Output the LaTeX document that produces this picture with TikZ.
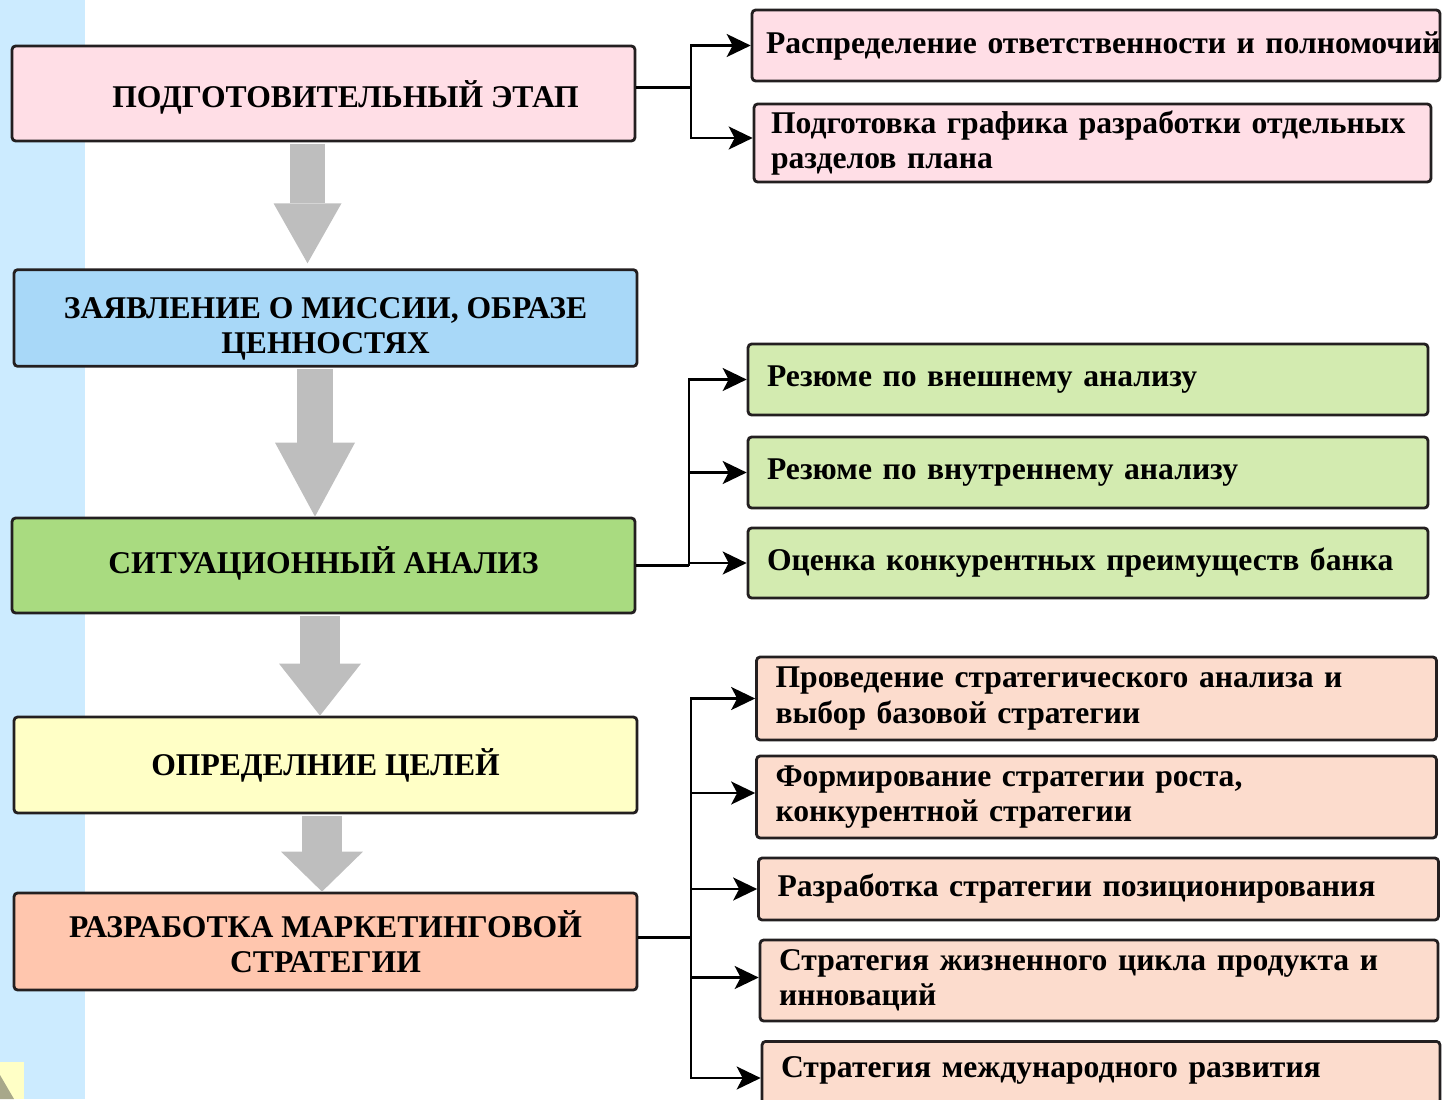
\documentclass[tikz,border=0pt]{standalone}
\usepackage{fontspec}
\setmainfont{Liberation Serif}
\usetikzlibrary{arrows.meta}
\usepackage{xcolor}
\definecolor{stripblue}{HTML}{CCEBFF}
\definecolor{boxline}{HTML}{231F20}
\definecolor{arrowgrey}{HTML}{BEBEBE}
\definecolor{pinkbox}{HTML}{FFDEE6}
\definecolor{bluebox}{HTML}{A8D8F8}
\definecolor{greenbox}{HTML}{A9DB80}
\definecolor{yellowbox}{HTML}{FFFFC6}
\definecolor{salmonbox}{HTML}{FFC6AE}
\definecolor{lightgreen}{HTML}{D3EBB0}
\definecolor{lightsalmon}{HTML}{FCDCCD}
\definecolor{cornergrey}{HTML}{A8A88A}

\begin{document}
\begin{tikzpicture}[x=0.02cm,y=-0.02cm]
    \tikzset{stage/.style = {draw=boxline, line width=1.6pt, rounded corners=2pt,
        minimum width=12.46cm, minimum height=1.9cm, align=center,
        font=\fontsize{18}{20}\selectfont\bfseries}}
    \tikzset{item/.style = {draw=boxline, line width=1.6pt, rounded corners=2pt,
        text width=12.84cm, inner xsep=0.38cm, align=left,
        font=\fontsize{18}{20}\selectfont\bfseries}}
    \tikzset{edge/.style = {line width=1.3pt, -{Stealth[length=0.48cm,width=0.46cm,inset=0.12cm]}}}
    \tikzset{bigarrow/.style n args={3}{draw=arrowgrey, line width=#1, shorten <=1pt,
        -{Triangle[width=#2,length=#3,line width=0pt]}}}
    \clip (0,0) rectangle (1442,1099);
    % background
    \fill[stripblue] (0,0) rectangle (85,1099);
    \fill[yellowbox] (0,1062) rectangle (24,1099);
    \fill[cornergrey] (0,1075) -- (14,1099) -- (0,1099) -- cycle;

    % stages
    \node[stage, fill=pinkbox] (stage1) at (323.5,93.5) {\hspace*{0.88cm}\raisebox{-0.08cm}[\height][\depth]{ПОДГОТОВИТЕЛЬНЫЙ ЭТАП}};
    \node[stage, fill=bluebox, minimum height=1.92cm] (stage2) at (325.5,318) {\rule{0pt}{0.86cm}ЗАЯВЛЕНИЕ О МИССИИ, ОБРАЗЕ\\ЦЕННОСТЯХ};
    \node[stage, fill=greenbox] (stage3) at (323.5,565.5) {\raisebox{0.05cm}[\height][\depth]{СИТУАЦИОННЫЙ АНАЛИЗ}};
    \node[stage, fill=yellowbox, minimum height=1.92cm] (stage4) at (325.5,765) {ОПРЕДЕЛНИЕ ЦЕЛЕЙ};
    \node[stage, fill=salmonbox, minimum height=1.94cm] (stage5) at (325.5,941.5) {РАЗРАБОТКА МАРКЕТИНГОВОЙ\\СТРАТЕГИИ};

    % block arrows
    \draw[bigarrow={0.7cm}{1.36cm}{1.2cm}, shorten >=0.1cm] ([xshift=-0.32cm]stage1.south) coordinate (a1) -- (a1 |- stage2.north);
    \draw[bigarrow={0.72cm}{1.6cm}{1.48cm}] ([xshift=-0.21cm]stage2.south) coordinate (a2) -- (a2 |- stage3.north);
    \draw[bigarrow={0.8cm}{1.64cm}{1.04cm}] ([xshift=-0.07cm]stage3.south) coordinate (a3) -- (a3 |- stage4.north);
    \draw[bigarrow={0.8cm}{1.64cm}{0.8cm}] ([xshift=-0.07cm]stage4.south) coordinate (a4) -- (a4 |- stage5.north);

    % sub-items
    \node[item, fill=pinkbox, text width=13.2cm, inner xsep=0.28cm, minimum height=1.42cm] (r1) at (1096,45.5) {\mbox{Распределение ответственности и полномочий}};
    \node[item, fill=pinkbox, text width=12.86cm, inner xsep=0.34cm, minimum height=1.56cm] (r2) at (1092.5,143) {Подготовка графика разработки отдельных\\разделов плана};
    \node[item, fill=lightgreen, minimum height=1.42cm] (g1) at (1088,379.5) {Резюме по внешнему анализу};
    \node[item, fill=lightgreen, minimum height=1.42cm] (g2) at (1088,472.5) {Резюме по внутреннему анализу};
    \node[item, fill=lightgreen, minimum height=1.4cm] (g3) at (1088,563) {Оценка конкурентных преимуществ банка};
    \node[item, fill=lightsalmon, minimum height=1.66cm] (s1) at (1096.5,698.5) {Проведение стратегического анализа и\\выбор базовой стратегии};
    \node[item, fill=lightsalmon, minimum height=1.64cm] (s2) at (1096.5,797) {Формирование стратегии роста,\\конкурентной стратегии};
    \node[item, fill=lightsalmon, minimum height=1.24cm] (s3) at (1098.5,889) {Разработка стратегии позиционирования};
    \node[item, fill=lightsalmon, text width=12.8cm, minimum height=1.62cm] (s4) at (1099,980.5) {Стратегия жизненного цикла продукта и\\инноваций};
    \node[item, fill=lightsalmon, text width=12.8cm, anchor=north, inner ysep=0.3cm, text depth=0.8cm] (s5) at (1101,1040) {Стратегия международного развития};

    % connectors
    \draw[line width=1.3pt] ([yshift=0.12cm]stage1.east) -- ++(55,0) coordinate (bus1);
    \draw[edge] (bus1) |- (r1.west);
    \draw[edge] (bus1) |- ([yshift=0.1cm]r2.west);
    \draw[line width=1.5pt] (stage3.east) -- ++(53,0) coordinate (bus2);
    \draw[edge] (bus2) |- (g1.west);
    \draw[edge] (bus2) |- (g2.west);
    \draw[edge] (bus2) |- (g3.west);
    \draw[line width=1.3pt] ([yshift=0.08cm]stage5.east) -- ++(53,0) coordinate (bus3);
    \draw[edge] (bus3) |- (s1.west);
    \draw[edge] (bus3) |- ([yshift=0.08cm]s2.west);
    \draw[edge] (bus3) |- (s3.west);
    \draw[edge] (bus3) |- ([yshift=0.06cm]s4.west);
    \draw[edge] (bus3) |- ([yshift=-0.06cm]s5.west |- 0,1075);
\end{tikzpicture}
\end{document}
